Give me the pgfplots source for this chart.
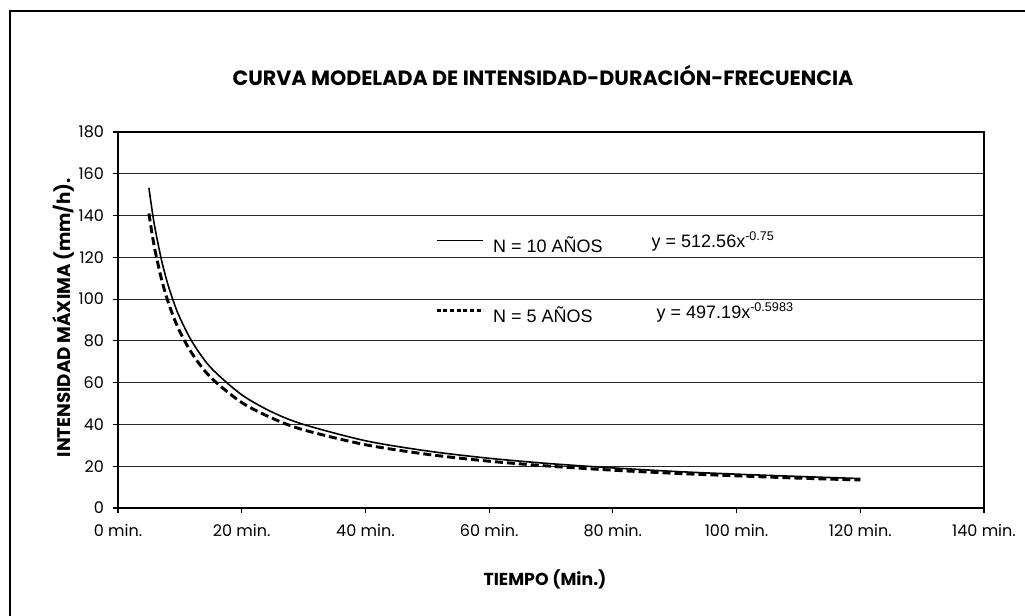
\documentclass[border=0pt]{standalone}
\usepackage{fontspec}
\usepackage{pgfplots}
\pgfplotsset{compat=1.18}
\setmainfont{Liberation Sans}
\newfontfamily\gothic{Poppins}
\newfontfamily\arial{Liberation Sans}

\begin{document}
\begin{tikzpicture}
\begin{scope}[x=0.75pt,y=0.75pt]
\useasboundingbox (0,0) rectangle (1025,-616);
\draw[line width=2.2pt] (10,-616) -- (10,-11) -- (1025,-11);
\node[font=\gothic\bfseries\fontsize{15.5}{18}\selectfont] at (543,-75) {CURVA MODELADA DE INTENSIDAD-DURACIÓN-FRECUENCIA};
\node[font=\gothic\bfseries\fontsize{13.7}{15}\selectfont, rotate=90] at (63,-318) {INTENSIDAD MÁXIMA (mm/h).};
\node[font=\gothic\bfseries\fontsize{13}{15}\selectfont] at (545,-579) {TIEMPO (Min.)};
\node[font=\arial\fontsize{13.5}{15}\selectfont, anchor=west] at (647,-241) {y = 512.56x\textsuperscript{-0.75}};
\node[font=\arial\fontsize{13.5}{15}\selectfont, anchor=west] at (652,-312) {y = 497.19x\textsuperscript{-0.5983}};
\end{scope}
\begin{axis}[
  at={(88.5pt,-381pt)}, anchor=south west,
  scale only axis, width=649.5pt, height=282pt,
  xmin=0, xmax=140, ymin=0, ymax=180,
  xtick={0,20,40,60,80,100,120,140},
  xticklabels={0 min.,20 min.,40 min.,60 min.,80 min.,100 min.,120 min.,140 min.},
  ytick={0,20,...,180},
  ymajorgrids,
  major grid style={black!85, line width=0.9pt},
  axis line style={black, line width=1pt},
  tick align=outside, tick pos=left, major tick length=4pt,
  tick style={black, line width=0.8pt},
  ticklabel style={font=\gothic\fontsize{12}{13}\selectfont},
  xticklabel style={yshift=-4.5pt},
  yticklabel style={xshift=-3pt},
  /pgf/number format/assume math mode=true,
  legend style={at={(0.366,0.604)}, anchor=west, draw=none, fill=none,
    inner sep=0pt, row sep=42.5pt, column sep=6pt,
    font=\arial\fontsize{13.5}{15}\selectfont,
    nodes={inner sep=0pt, text height=10pt, text depth=0pt}},
  legend cell align=left,
]
\addplot[black, line width=1.2pt, smooth,
  legend image code/.code={\draw[black,line width=1pt] (0pt,4pt) -- (35pt,4pt);}]
  coordinates {
  (5,153.3) (5.5,142.7) (6,133.7) (7,119.1) (8,107.7) (9,98.6) (10,91.1)
  (12,79.5) (15,67.2) (20,54.2) (25,45.8) (30,40.0) (40,32.2) (50,27.3)
  (60,23.8) (70,21.2) (80,19.2) (90,17.5) (100,16.2) (110,15.1) (120,14.1)
  };
\addlegendentry{N = 10 AÑOS}
\addplot[black, line width=2.2pt, smooth, dash pattern=on 6pt off 3pt,
  legend image code/.code={\draw[black,line width=2.4pt,dash pattern=on 3pt off 2pt] (0pt,4pt) -- (35pt,4pt);}]
  coordinates {
  (5,141.0) (5.5,131.4) (6,123.2) (7,109.9) (8,99.6) (9,91.3) (10,84.4)
  (12,73.8) (15,62.5) (20,50.5) (25,42.9) (30,37.4) (40,30.3) (50,25.7)
  (60,22.4) (70,20.0) (80,18.1) (90,16.6) (100,15.4) (110,14.3) (120,13.4)
  };
\addlegendentry{N = 5 AÑOS}
\end{axis}
\end{tikzpicture}
\end{document}
